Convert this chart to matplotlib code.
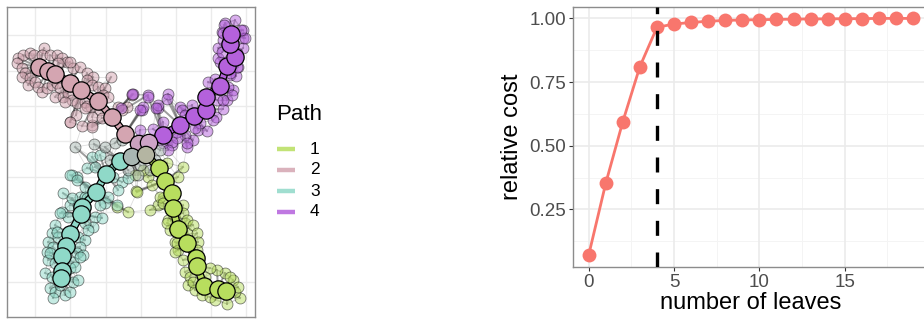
import numpy as np
import matplotlib
matplotlib.use("Agg")
import matplotlib.pyplot as plt
import matplotlib.patheffects as pe

plt.rcParams['font.family'] = ['Liberation Sans', 'DejaVu Sans']

# ---------------- data: right panel ----------------
leaves = list(range(20))
relative_cost = [0.071, 0.353, 0.595, 0.811, 0.965, 0.978, 0.984, 0.989, 0.992, 0.994,
                 0.995, 0.996, 0.997, 0.998, 0.998, 0.999, 0.999, 1.0, 1.0, 1.0]
chosen_leaves = 4
x_ticks = [0, 5, 10, 15]
y_ticks = [0.25, 0.50, 0.75, 1.00]
y_ticklabels = ["0.25", "0.50", "0.75", "1.00"]

# ---------------- data: left panel (embedding coordinates) ----------------
path_names = ["1", "2", "3", "4"]
path_colors = ["#B8DE5E", "#D4A5B1", "#8FD9C8", "#B461DC"]

center_x = [139, 149, 132, 146]
center_y = [144, 143, 157, 155]
center_colors = ["#C9A2BE", "#CDA3C6", "#A9B6B2", "#B4B5A2"]

# backbone (large) nodes per path
p1_x = [159, 165, 172, 173, 178, 187, 196, 197, 204, 218, 226]
p1_y = [168, 181, 193, 208, 229, 243, 258, 266, 286, 289, 291]
p2_x = [39, 48, 55, 70, 81, 98, 112, 125]
p2_y = [67, 71, 74, 83, 90, 101, 117, 134]
p3_x = [120, 106, 96, 82, 81, 70, 66, 62, 62, 61]
p3_y = [161, 174, 192, 207, 214, 234, 246, 256, 271, 278]
p4_x = [163, 180, 194, 206, 206, 220, 227, 235, 230, 231]
p4_y = [135, 125, 116, 110, 97, 86, 66, 57, 44, 34]

# small (cell) nodes per path
s1_x = [183, 178, 148, 152, 136, 163, 158, 183, 143, 135, 167, 137, 150, 128, 117, 160, 163,
        168, 175, 183, 185, 182, 187, 175, 170, 167, 187, 193, 197, 198, 178, 183, 185, 190,
        188, 195, 202, 210, 215, 227, 240, 235, 233, 225, 217, 210, 205, 193, 230, 238, 175,
        177, 197]
s1_y = [167, 177, 177, 185, 191, 198, 205, 205, 170, 175, 163, 192, 210, 212, 207, 197, 203,
        220, 218, 213, 223, 233, 233, 242, 230, 223, 220, 225, 233, 242, 250, 260, 272, 277,
        285, 290, 295, 297, 300, 304, 298, 292, 280, 273, 270, 268, 277, 282, 277, 287, 252,
        243, 250]
s2_x = [44, 18, 23, 30, 34, 42, 50, 57, 62, 67, 58, 17, 22, 25, 22, 30, 28, 35, 38, 42, 47,
        52, 57, 60, 55, 63, 68, 72, 77, 65, 73, 80, 70, 87, 93, 87, 92, 98, 105, 103, 108,
        111, 85, 91, 132, 127, 118, 70, 76, 87, 92, 100, 85, 92, 70, 82, 92, 102, 122]
s2_y = [48, 58, 55, 53, 55, 55, 55, 55, 58, 62, 63, 63, 68, 73, 77, 78, 85, 82, 87, 92, 88,
        85, 83, 88, 97, 97, 93, 100, 103, 102, 68, 67, 62, 73, 77, 80, 85, 87, 88, 95, 97,
        77, 102, 107, 95, 107, 107, 122, 115, 106, 125, 110, 108, 117, 122, 126, 127, 118, 110]
s3_x = [92, 100, 87, 95, 77, 72, 85, 113, 122, 118, 128, 80, 85, 105, 117, 108, 100, 70, 78,
        62, 68, 95, 102, 93, 55, 52, 58, 48, 53, 78, 85, 80, 77, 83, 47, 48, 55, 73, 70, 45,
        52, 50, 55, 53, 65, 70, 73, 78, 60, 70, 77, 63, 72, 87, 60, 85, 88, 57, 50, 80, 75]
s3_y = [157, 155, 168, 167, 177, 175, 187, 177, 182, 190, 178, 197, 197, 203, 205, 197, 205,
        205, 205, 212, 217, 217, 218, 227, 225, 233, 237, 242, 247, 237, 240, 247, 253, 255,
        252, 260, 263, 262, 268, 273, 277, 288, 292, 298, 295, 292, 282, 280, 285, 175, 180,
        193, 198, 198, 213, 223, 230, 232, 253, 257, 267]
s4_x = [142, 158, 180, 163, 153, 140, 198, 207, 216, 223, 193, 187, 172, 163, 177, 133, 148,
        168, 158, 143, 192, 207, 217, 227, 233, 230, 236, 238, 220, 218, 218, 223, 243, 243,
        243, 235, 225, 222, 208, 215, 230, 237, 237, 245, 241, 224, 223, 222, 228, 232, 223,
        148, 156, 132, 140, 121, 167, 182, 185, 213, 200, 195, 185, 177, 187, 172, 168]
s4_y = [110, 108, 107, 122, 129, 130, 130, 131, 117, 109, 140, 147, 145, 143, 132, 94, 95,
        94, 105, 107, 105, 94, 100, 100, 90, 75, 76, 67, 62, 58, 48, 40, 38, 48, 30, 20, 23,
        32, 82, 79, 73, 67, 53, 38, 30, 25, 33, 52, 87, 95, 100, 97, 108, 94, 110, 108, 99,
        110, 115, 120, 123, 128, 135, 138, 143, 142, 150]
sc_x = [75, 94, 105, 115, 122, 110, 128, 138, 155, 160, 140, 150]
sc_y = [147, 144, 147, 143, 140, 160, 170, 175, 160, 150, 165, 170]
sc_color = "#A9B8B3"

# ---------------- figure ----------------
W, H = 924, 320
fig = plt.figure(figsize=(W / 100, H / 100), dpi=100)

# ---------- left panel ----------
axL = fig.add_axes([7 / W, 3 / H, 248 / W, 310 / H])
axL.set_xlim(7, 255)
axL.set_ylim(317, 7)
for gx in [35, 70, 106, 141, 176, 211, 246]:
    axL.axvline(gx, color="#EBEBEB", lw=1.0, zorder=0)
for gy in [35, 71, 106, 141, 177, 212, 247, 282]:
    axL.axhline(gy, color="#EBEBEB", lw=1.0, zorder=0)
axL.set_xticks([])
axL.set_yticks([])
for s in axL.spines.values():
    s.set_color("#8C8C8C")
    s.set_linewidth(1.0)

big_sets = [(p1_x, p1_y), (p2_x, p2_y), (p3_x, p3_y), (p4_x, p4_y)]
small_sets = [(s1_x, s1_y), (s2_x, s2_y), (s3_x, s3_y), (s4_x, s4_y)]

all_big_x = np.array(sum([list(b[0]) for b in big_sets], []) + center_x, float)
all_big_y = np.array(sum([list(b[1]) for b in big_sets], []) + center_y, float)
all_small_x = np.array(sum([list(s[0]) for s in small_sets], []) + sc_x, float)
all_small_y = np.array(sum([list(s[1]) for s in small_sets], []) + sc_y, float)

# light mesh edges: each small node to its nearest small nodes
for i in range(len(all_small_x)):
    d = np.hypot(all_small_x - all_small_x[i], all_small_y - all_small_y[i])
    d[i] = np.inf
    for j in np.argsort(d)[:4]:
        axL.plot([all_small_x[i], all_small_x[j]], [all_small_y[i], all_small_y[j]],
                 color="#A0A0A0", lw=0.6, alpha=0.35, zorder=1)
# spoke edges: each small node to its nearest big node
for i in range(len(all_small_x)):
    d = np.hypot(all_big_x - all_small_x[i], all_big_y - all_small_y[i])
    j = int(np.argmin(d))
    axL.plot([all_small_x[i], all_big_x[j]], [all_small_y[i], all_big_y[j]],
             color="#4D4D4D", lw=1.4, alpha=0.55, zorder=1.5)

# small nodes
for (sx, sy), col in zip(small_sets, path_colors):
    axL.scatter(sx, sy, s=62, facecolor=col, edgecolor=(0, 0, 0, 0.5), linewidth=0.6,
                alpha=0.5, zorder=2)
axL.scatter(sc_x, sc_y, s=62, facecolor=sc_color, edgecolor=(0, 0, 0, 0.5), linewidth=0.6,
            alpha=0.5, zorder=2)

# backbone connectors
chains = [
    ([center_x[3]] + p1_x, [center_y[3]] + p1_y, path_colors[0]),
    (p2_x + [center_x[0]], p2_y + [center_y[0]], path_colors[1]),
    ([center_x[2]] + p3_x, [center_y[2]] + p3_y, path_colors[2]),
    ([center_x[1]] + p4_x, [center_y[1]] + p4_y, path_colors[3]),
    ([center_x[0], center_x[1]], [center_y[0], center_y[1]], center_colors[1]),
    ([center_x[0], center_x[2], center_x[3], center_x[1]],
     [center_y[0], center_y[2], center_y[3], center_y[1]], "#B7B2B0"),
]
for cx, cy, col in chains:
    axL.plot(cx, cy, color=col, lw=4.0, solid_capstyle="butt", zorder=3,
             path_effects=[pe.Stroke(linewidth=5.8, foreground="black"), pe.Normal()])

# big nodes
for (bx, by), col in zip(big_sets, path_colors):
    axL.scatter(bx, by, s=155, facecolor=col, edgecolor="black", linewidth=0.9, zorder=4)
axL.scatter(center_x, center_y, s=155, facecolor=center_colors, edgecolor="black",
            linewidth=0.9, zorder=4)

# legend
fig.text(276 / W, 1 - 114 / H, "Path", fontsize=16, va="center", ha="left")
key_y = [149, 170, 191, 212]
for name, col, ky in zip(path_names, path_colors, key_y):
    fig.add_artist(plt.Line2D([277 / W, 295 / W], [1 - ky / H, 1 - ky / H],
                              color=col, lw=3.2, alpha=0.85, solid_capstyle="butt"))
    fig.text(310 / W, 1 - ky / H, name, fontsize=12.5, va="center", ha="left")

# ---------- right panel ----------
x0 = 588.7
ppu = 17.07
left_px = 572.7
right_px = 929.0
axR = fig.add_axes([left_px / W, (H - 266.7) / H, (right_px - left_px) / W, 260 / H])
axR.set_xlim((left_px - x0) / ppu, (right_px - x0) / ppu)
axR.set_ylim(0.025, 1.046)
for gx in [2.5, 7.5, 12.5, 17.5]:
    axR.axvline(gx, color="#F4F4F4", lw=0.7, zorder=0)
for gy in [0.125, 0.375, 0.625, 0.875]:
    axR.axhline(gy, color="#F4F4F4", lw=0.7, zorder=0)
for gx in x_ticks:
    axR.axvline(gx, color="#EBEBEB", lw=1.2, zorder=0)
for gy in y_ticks:
    axR.axhline(gy, color="#EBEBEB", lw=1.2, zorder=0)

axR.plot(leaves, relative_cost, color="#F8766D", lw=2.0, zorder=3,
         marker="o", markersize=10, markeredgewidth=0)
axR.axvline(chosen_leaves, color="black", lw=2.4, linestyle=(0, (4.5, 5.0)), zorder=4)

axR.set_xticks(x_ticks)
axR.set_xticklabels([str(v) for v in x_ticks])
axR.set_yticks(y_ticks)
axR.set_yticklabels(y_ticklabels)
axR.tick_params(axis="both", labelsize=13.5, labelcolor="#4D4D4D", color="#333333",
                length=3, width=0.8, pad=2)
for s in axR.spines.values():
    s.set_color("#8C8C8C")
    s.set_linewidth(1.0)
axR.set_xlabel("number of leaves", fontsize=17, labelpad=1)
axR.set_ylabel("relative cost", fontsize=17, labelpad=4)

fig.savefig("out.png", dpi=100)
